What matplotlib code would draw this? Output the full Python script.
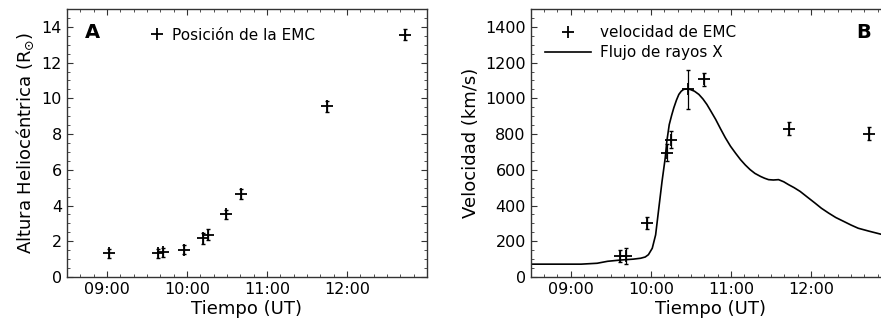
import numpy as np
import matplotlib
matplotlib.use('Agg')
import matplotlib.pyplot as plt
from matplotlib.ticker import MultipleLocator

plt.rcParams['font.family'] = ['DejaVu Sans']

# Panel A: altura heliocentrica de la EMC (tiempo en horas UT)
t_pos = [9.03, 9.64, 9.70, 9.96, 10.20, 10.26, 10.49, 10.68, 11.75, 12.73]
altura = [1.33, 1.33, 1.38, 1.52, 2.17, 2.36, 3.52, 4.64, 9.56, 13.57]
altura_err = [0.25, 0.25, 0.25, 0.25, 0.3, 0.3, 0.25, 0.3, 0.3, 0.3]

# Panel B: velocidad de la EMC
t_vel = [9.62, 9.69, 9.955, 10.196, 10.246, 10.47, 10.67, 11.73, 12.73]
velocidad = [118, 118, 301, 695, 769, 1050, 1106, 829, 803]
vel_err = [33, 47, 33, 47, 47, 110, 37, 36, 35]

# Flujo de rayos X (escalado a la velocidad)
t_rx = [8.5, 9.13, 9.33, 9.46, 9.62, 9.78, 9.872, 9.93, 9.97, 10.018, 10.06,
        10.10, 10.14, 10.18, 10.20, 10.23, 10.26, 10.287, 10.32, 10.35, 10.38,
        10.41, 10.45, 10.49, 10.545, 10.60, 10.65, 10.70, 10.745, 10.81, 10.87,
        10.93, 10.995, 11.06, 11.12, 11.18, 11.24, 11.30, 11.37, 11.42, 11.47,
        11.53, 11.595, 11.66, 11.72, 11.79, 11.865, 11.95, 12.05, 12.13, 12.22,
        12.31, 12.41, 12.50, 12.59, 12.73, 12.87, 13.0]
flujo_rx = [72, 72, 77, 88, 95, 100, 105, 112, 125, 161, 236,
            386, 535, 667, 760, 853, 905, 947, 990, 1022, 1040,
            1050, 1053, 1050, 1040, 1022, 997, 966, 932, 882, 830,
            780, 732, 692, 657, 627, 601, 580, 563, 553, 545,
            543, 545, 533, 517, 500, 479, 449, 414, 385, 358,
            333, 311, 291, 273, 256, 240, 230]

xticks = [9, 10, 11, 12]
xticklabels = ['09:00', '10:00', '11:00', '12:00']

fig = plt.figure(figsize=(8.81, 3.29), dpi=100)
axA = fig.add_axes([0.0760, 0.158, 0.4086, 0.8146])
axB = fig.add_axes([0.6024, 0.158, 0.4090, 0.8146])

frame = '#333333'


def estilo(ax):
    ax.set_xlim(8.5, 13.0)
    ax.set_xticks(xticks)
    ax.set_xticklabels(xticklabels)
    ax.xaxis.set_minor_locator(MultipleLocator(1 / 6))
    ax.tick_params(which='both', direction='in', top=True, right=True,
                   color=frame, labelsize=11.5)
    ax.tick_params(which='major', length=4, width=0.8)
    ax.tick_params(which='minor', length=2, width=0.6)
    for s in ax.spines.values():
        s.set_color(frame)
        s.set_linewidth(1.0)
    ax.set_xlabel('Tiempo (UT)', fontsize=13, labelpad=2)


# --- Panel A ---
estilo(axA)
axA.errorbar(t_pos, altura, yerr=altura_err, fmt='none', ecolor='black',
             elinewidth=0.9, capsize=1.5)
axA.plot(t_pos, altura, '+', color='black', markersize=9, mew=1.3,
         label='Posición de la EMC')
axA.set_ylim(0, 15)
axA.yaxis.set_major_locator(MultipleLocator(2))
axA.yaxis.set_minor_locator(MultipleLocator(0.5))
axA.set_ylabel(r'Altura Heliocéntrica (R$_{\odot}$)', fontsize=13, labelpad=4)
axA.legend(loc='upper left', bbox_to_anchor=(0.228, 0.93), frameon=False,
           borderaxespad=0, borderpad=0, handlelength=1.0, handletextpad=0.5,
           fontsize=11)
axA.text(0.071, 0.914, 'A', transform=axA.transAxes, fontsize=14,
         fontweight='bold', ha='center', va='center')

# --- Panel B ---
estilo(axB)
axB.plot(t_rx, flujo_rx, '-', color='black', lw=1.2, label='Flujo de rayos X')
axB.errorbar(t_vel, velocidad, yerr=vel_err, fmt='none', ecolor='black',
             elinewidth=0.9, capsize=1.5)
axB.plot(t_vel, velocidad, '+', color='black', markersize=9, mew=1.3,
         label='velocidad de EMC')
axB.set_ylim(0, 1500)
axB.yaxis.set_major_locator(MultipleLocator(200))
axB.yaxis.set_minor_locator(MultipleLocator(50))
axB.set_ylabel('Velocidad (km/s)', fontsize=13, labelpad=4)
h, l = axB.get_legend_handles_labels()
axB.legend(h[::-1], l[::-1], loc='upper left', bbox_to_anchor=(0.04, 0.94),
           frameon=False, borderaxespad=0, borderpad=0, handlelength=3.0,
           handletextpad=0.6, labelspacing=0.35, fontsize=11)
axB.text(0.925, 0.914, 'B', transform=axB.transAxes, fontsize=14,
         fontweight='bold', ha='center', va='center')

fig.savefig('out.png', dpi=100)
